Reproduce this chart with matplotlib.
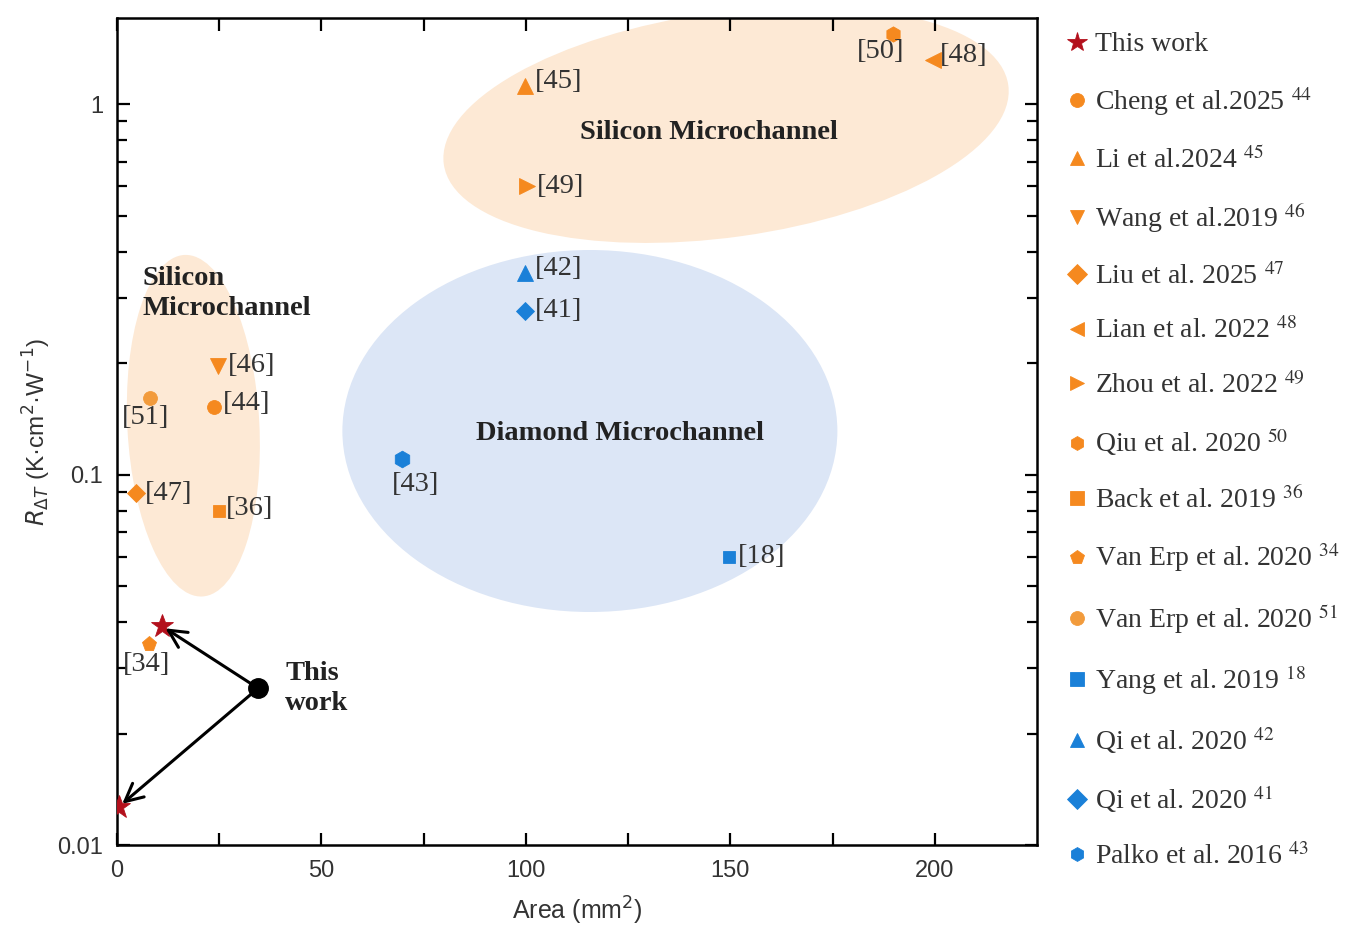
import matplotlib
matplotlib.use("Agg")
import matplotlib.pyplot as plt
from matplotlib.patches import Ellipse
from matplotlib.transforms import ScaledTranslation
from matplotlib.ticker import LogLocator, NullFormatter

# ---------------- data ----------------
names = ["This work", "This work", "Cheng et al.2025", "Li et al.2024", "Wang et al.2019",
         "Liu et al. 2025", "Lian et al. 2022", "Zhou et al. 2022", "Qiu et al. 2020",
         "Back et al. 2019", "Van Erp et al. 2020", "Van Erp et al. 2020",
         "Yang et al. 2019", "Qi et al. 2020", "Qi et al. 2020", "Palko et al. 2016"]
refs = ["", "", "44", "45", "46", "47", "48", "49", "50", "36", "34", "51", "18", "42", "41", "43"]
area = [11.0, 0.5, 23.7, 99.8, 24.7, 4.6, 199.5, 100.2, 189.7, 24.9, 7.8, 8.0,
        149.6, 99.8, 99.8, 69.7]
rdt = [0.039, 0.0127, 0.152, 1.12, 0.197, 0.089, 1.32, 0.60, 1.55, 0.080, 0.035, 0.161,
       0.060, 0.35, 0.277, 0.110]

xtick_vals = [0, 25, 50, 75, 100, 125, 150, 175, 200]
xtick_labels = ["0", "", "50", "", "100", "", "150", "", "200"]
ytick_vals = [0.01, 0.1, 1]
ytick_labels = ["0.01", "0.1", "1"]

# ---------------- styles ----------------
ORANGE = "#f5891f"
BLUE = "#1a80d8"
RED = "#b3101c"
markers = ["*", "*", "o", "^", "v", "D", "<", ">", "h", "s", "p", "o", "s", "^", "D", "h"]
colors = [RED, RED, ORANGE, ORANGE, ORANGE, ORANGE, ORANGE, ORANGE, ORANGE, ORANGE,
          ORANGE, "#f29b3c", BLUE, BLUE, BLUE, BLUE]
sizes = [17, 17, 10, 11, 11, 9, 11, 11, 11, 9, 11, 10, 9, 11, 9, 12]
# label offsets (pixels) and alignment
lab_off = {"45": (10, 5, "left"), "49": (10, 0, "left"), "50": (-12, -18, "center"),
           "48": (7, 4, "left"), "42": (10, 5, "left"), "41": (10, 0, "left"),
           "43": (14, -25, "center"), "18": (9, 0, "left"), "46": (10, 0, "left"),
           "44": (9, 4, "left"), "51": (-4, -19, "center"), "47": (9, 0, "left"),
           "36": (7, 2, "left"), "34": (-2, -21, "center")}

SERIF = ["Liberation Serif", "DejaVu Serif"]
SANS = ["Liberation Sans", "DejaVu Sans"]
TXT = "#333333"

fig = plt.figure(figsize=(13.54, 9.32), dpi=100)
ax = fig.add_axes([117 / 1354, 1 - 845 / 932, 920 / 1354, 827 / 932])
ax.set_yscale("log")
ax.set_xlim(0, 225)
ax.set_ylim(0.01, 1.71)


def blob(cx, cy, w, h, ang, color):
    tr = fig.dpi_scale_trans + ScaledTranslation(cx, cy, ax.transAxes)
    e = Ellipse((0, 0), w, h, angle=ang, transform=tr, facecolor=color,
                edgecolor="none", zorder=0)
    ax.add_patch(e)


blob(0.662, 0.871, 5.70, 2.25, 8, "#fde9d5")
blob(0.083, 0.507, 1.32, 3.42, 3, "#fde9d5")
blob(0.514, 0.5006, 4.95, 3.62, 0, "#dce6f6")

handles = []
for i in range(len(names)):
    h = ax.plot(area[i], rdt[i], linestyle="none", marker=markers[i], color=colors[i],
                markersize=sizes[i], markeredgewidth=0.6, markeredgecolor=colors[i],
                zorder=3)[0]
    if i != 1:
        lab = names[i] + (r" $^{" + refs[i] + "}$" if refs[i] else "")
        handles.append((h, lab))
    if refs[i] in lab_off:
        dx, dy, ha = lab_off[refs[i]]
        ax.annotate("[" + refs[i] + "]", (area[i], rdt[i]), xytext=(dx, dy),
                    textcoords="offset pixels", ha=ha, va="center", fontsize=20.5,
                    family=SERIF, color=TXT, zorder=4)

# "This work" pointer
dot = (34.5, 0.0265)
ax.plot(*dot, "o", color="black", markersize=14, zorder=5)
for i in (0, 1):
    ax.annotate("", xy=(area[i], rdt[i]), xytext=dot,
                arrowprops=dict(arrowstyle="->", lw=2.2, color="black",
                                mutation_scale=32, shrinkA=0, shrinkB=3), zorder=4)
ax.annotate("This\nwork", dot, xytext=(27, 0), textcoords="offset pixels", ha="left",
            va="center", fontsize=20.5, fontweight="bold", family=SERIF, color="#222222",
            linespacing=1.25)

# region labels
ax.text(0.6435, 0.862, "Silicon Microchannel", transform=ax.transAxes, ha="center",
        va="center", fontsize=20.5, fontweight="bold", family=SERIF, color="#222222")
ax.text(0.547, 0.498, "Diamond Microchannel", transform=ax.transAxes, ha="center",
        va="center", fontsize=20.5, fontweight="bold", family=SERIF, color="#222222")
ax.text(0.028, 0.667, "Silicon\nMicrochannel", transform=ax.transAxes, ha="left",
        va="center", fontsize=20.5, fontweight="bold", family=SERIF, color="#222222",
        linespacing=1.25)

# axes styling
for s in ax.spines.values():
    s.set_linewidth(1.8)
ax.set_xticks(xtick_vals)
ax.set_xticklabels(xtick_labels)
ax.set_yticks(ytick_vals)
ax.set_yticklabels(ytick_labels)
ax.yaxis.set_minor_locator(LogLocator(base=10, subs=range(2, 10)))
ax.yaxis.set_minor_formatter(NullFormatter())
ax.tick_params(which="both", direction="in", top=True, right=True, width=1.6,
               labelsize=17, labelcolor=TXT)
ax.tick_params(axis="x", pad=11)
ax.tick_params(axis="y", pad=10)
ax.tick_params(which="major", length=9)
ax.tick_params(which="minor", length=7)
for t in ax.get_xticklabels() + ax.get_yticklabels():
    t.set_family(SANS)

ax.set_xlabel("Area (mm$^2$)", fontsize=18, color=TXT, family=SANS, labelpad=9)
ax.set_ylabel(r"$R_{\Delta T}$ (K·cm$^2$·W$^{-1}$)", fontsize=17.5, color=TXT,
              family=SANS, labelpad=3)

leg = fig.legend([h for h, _ in handles], [l for _, l in handles],
                 loc="upper left", bbox_to_anchor=(1064 / 1354, 1 - 32 / 932),
                 frameon=False, prop={"family": SERIF, "size": 20},
                 handletextpad=0.2, handlelength=0.9, labelspacing=1.0,
                 borderaxespad=0, borderpad=0)
for t in leg.get_texts():
    t.set_color(TXT)
    t.set_math_fontfamily("stix")
for lh in leg.legend_handles:
    lh.set_markersize(10)
leg.legend_handles[0].set_markersize(15)

fig.savefig("out.png", dpi=100)
